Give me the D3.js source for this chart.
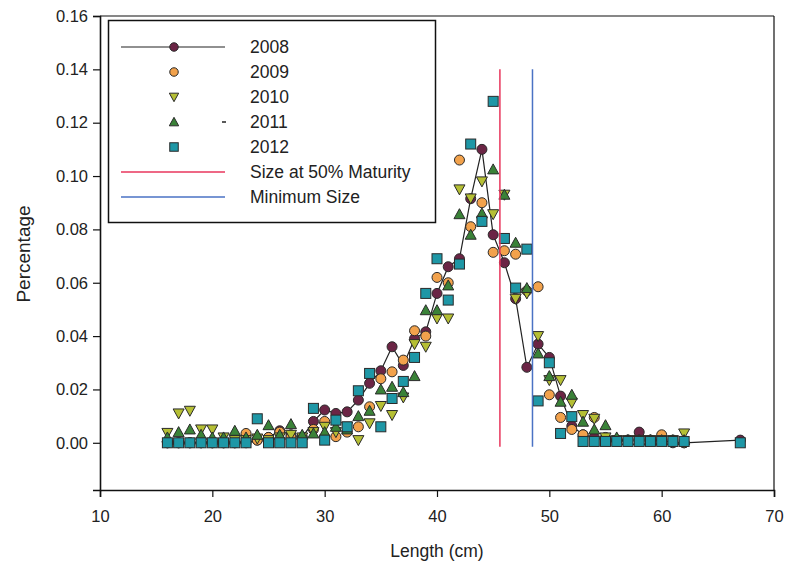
<!DOCTYPE html>
<html><head><meta charset="utf-8">
<script src="https://cdn.jsdelivr.net/npm/d3@7"></script>
<style>body{margin:0;background:#fff}svg{display:block;font-family:"Liberation Sans",Arial,sans-serif}</style>
</head><body><svg id="c" width="785" height="577"></svg>
<script>
const lengths = [16,17,18,19,20,21,22,23,24,25,26,27,28,29,30,31,32,33,34,35,36,37,38,39,40,41,42,43,44,45,46,47,48,49,50,51,52,53,54,55,56,57,58,59,60,61,62,67];
const y2008 = [0,0,0,0,0,0,0,0,0.001,0.002, 0.0045,0.003,0.002,0.008,0.0123,0.011,0.0116,0.016,0.0223,0.027, 0.036,0.029,0.039,0.0416,0.056,0.066,0.069,0.0915,0.110,0.078, 0.0675,0.054,0.0283,0.037,0.032,0.0175,0.0063,0.003,0.002,0.001, 0.001,0.001,0.004,0.001,0.001,0,0, 0.001];
const y2009 = [0,0,0,0,0,0,0,0.0035,0.001,0.002, 0.004,0.002,0.002,0.005,0.008,0.0023,0.004,0.006,0.0135,0.024, 0.0266,0.031,0.042,0.040,0.062,0.060,0.106,0.081,0.090,0.0714, 0.072,0.0707,0.057,0.0585,0.018,0.0095,0.005,0.003,0.0095,0.002, 0.001,0.001,0.001,0.001,0.003,0.001,0, null];
const y2010 = [0.0037,0.011,0.012,0.005,0.005,0.002,0.001,0.001,0.0016,0.001, 0.002,0.003,0.002,0.004,0.006,0.004,0.006,0.001,0.0073,0.0138, 0.0104,0.017,0.037,0.036,0.0466,0.0466,0.095,0.0916,0.098,0.0857, 0.093,0.054,0.056,0.040,0.0235,0.0235,0.015,0.0104,0.009,0.002, 0.001,0.001,0.001,0.001,0.001,0.001,0.0035, null];
const y2011 = [0.002,0.004,0.005,0.003,0.002,0.002,0.0045,0.002,0.003,0.0066, 0.003,0.007,0.003,0.0035,0.004,0.006,0.005,0.010,0.012,0.020, 0.021,0.019,0.025,0.0497,0.0497,0.059,0.0857,0.078,0.086,0.1025, 0.093,0.075,0.058,0.0335,0.025,0.0154,0.018,0.0079,0.005,0.0066, 0.002,0.001,0.001,0.001,0.001,0.001,0.001, null];
const y2012 = [0,0,0,0,0,0,0,0,0.009,0, 0,0,0,0.0129,0.001,0.0085,0.006,0.0195,0.026,0.006, 0.0166,0.023,0.032,0.056,0.069,0.0535,0.067,0.112,0.083,0.128, 0.0766,0.058,0.0726,0.0157,0.030,0.0035,0.0098,0.0005,0.0005,0.0005, 0.0005,0.0005,0.0005,0.0005,0.0005,0.0005,0.0005, 0];
const maturitySize = 45.6;
const minimumSize = 48.5;
const refTop = 0.14, refBottom = -0.0015;
const xTicks = [10,20,30,40,50,60,70];
const yTicks = [0,0.02,0.04,0.06,0.08,0.10,0.12,0.14,0.16];
const seriesNames = ["2008","2009","2010","2011","2012"];

const svg = d3.select("#c");
const x = d3.scaleLinear().domain([10,70]).range([100,774]);
const y = d3.scaleLinear().domain([-0.0177,0.16]).range([490,16]);
const txt = "#222";

// frame
svg.append("line").attr("x1",100).attr("x2",774).attr("y1",16).attr("y2",16).attr("stroke","#111").attr("stroke-width",1.2);
svg.append("line").attr("x1",774).attr("x2",774).attr("y1",16).attr("y2",490).attr("stroke","#111").attr("stroke-width",1.2);

const gx = svg.append("g").attr("transform","translate(0,490)")
  .call(d3.axisBottom(x).tickValues(xTicks).tickSize(7).tickPadding(13).tickFormat(d3.format("d")));
const gy = svg.append("g").attr("transform","translate(100,0)")
  .call(d3.axisLeft(y).tickValues(yTicks).tickSize(7).tickPadding(5).tickFormat(d3.format(".2f")));
[gx,gy].forEach(g=>{
  g.select(".domain").attr("stroke","#111").attr("stroke-width",1.6);
  g.selectAll(".tick line").attr("stroke","#111").attr("stroke-width",1.2);
  g.selectAll(".tick text").attr("fill",txt).style("font-size","16.5px").style("font-family","'Liberation Sans',Arial,sans-serif");
});
svg.append("text").attr("x",437).attr("y",557).attr("text-anchor","middle").attr("fill",txt).style("font-size","17.5px").text("Length (cm)");
svg.append("text").attr("transform","translate(30,254) rotate(-90)").attr("text-anchor","middle").attr("fill",txt).style("font-size","19px").text("Percentage");

const colors = {"2008":"#6b2545","2009":"#f2a24c","2010":"#b5bf34","2011":"#3a8238","2012":"#1e97a6"};
const stroke = "#2a2a2a";
function pts(vals){return lengths.map((l,i)=>({l, v:vals[i]})).filter(d=>d.v!==null);}

function drawMarker(g, type, cx, cy, fill, s){
  s = s || 1;
  if(type==="circle") g.append("circle").attr("cx",cx).attr("cy",cy).attr("r",5*s).attr("fill",fill).attr("stroke",stroke).attr("stroke-width",1);
  else if(type==="square") g.append("rect").attr("x",cx-5*s).attr("y",cy-5*s).attr("width",10*s).attr("height",10*s).attr("fill",fill).attr("stroke",stroke).attr("stroke-width",1);
  else if(type==="down") g.append("path").attr("d",`M${cx-5.5*s},${cy-4.5*s}L${cx+5.5*s},${cy-4.5*s}L${cx},${cy+5.5*s}Z`).attr("fill",fill).attr("stroke",stroke).attr("stroke-width",1);
  else if(type==="up") g.append("path").attr("d",`M${cx-5.5*s},${cy+4.5*s}L${cx+5.5*s},${cy+4.5*s}L${cx},${cy-5.5*s}Z`).attr("fill",fill).attr("stroke",stroke).attr("stroke-width",1);
}

const series = [
  {name:"2008", vals:y2008, type:"circle", line:true},
  {name:"2009", vals:y2009, type:"circle"},
  {name:"2010", vals:y2010, type:"down"},
  {name:"2011", vals:y2011, type:"up"},
  {name:"2012", vals:y2012, type:"square"}
];
const lineGen = d3.line().x(d=>x(d.l)).y(d=>y(d.v));
series.forEach(s=>{
  const g = svg.append("g");
  const p = pts(s.vals);
  if(s.line) g.append("path").attr("d",lineGen(p)).attr("fill","none").attr("stroke","#222").attr("stroke-width",1.2);
  p.forEach(d=>drawMarker(g, s.type, x(d.l), y(d.v), colors[s.name]));
});

// reference lines
svg.append("line").attr("x1",x(maturitySize)).attr("x2",x(maturitySize)).attr("y1",y(refTop)).attr("y2",y(refBottom)).attr("stroke","#e8365c").attr("stroke-width",1.5);
svg.append("line").attr("x1",x(minimumSize)).attr("x2",x(minimumSize)).attr("y1",y(refTop)).attr("y2",y(refBottom)).attr("stroke","#4a72c4").attr("stroke-width",1.5);

// legend
const lg = svg.append("g");
lg.append("rect").attr("x",108.5).attr("y",20.5).attr("width",327).attr("height",202).attr("fill","#fff").attr("stroke","#111").attr("stroke-width",1.5);
const rowY = [47,72,97,122,147,172,197];
const legendItems = [
  {label:"2008", type:"circle", color:colors["2008"], line:"#222"},
  {label:"2009", type:"circle", color:colors["2009"]},
  {label:"2010", type:"down", color:colors["2010"]},
  {label:"2011", type:"up", color:colors["2011"], dash:true},
  {label:"2012", type:"square", color:colors["2012"]},
  {label:"Size at 50% Maturity", refColor:"#e8365c"},
  {label:"Minimum Size", refColor:"#4a72c4"}
];
legendItems.forEach((it,i)=>{
  const yy = rowY[i];
  if(it.line) lg.append("line").attr("x1",121).attr("x2",225).attr("y1",yy).attr("y2",yy).attr("stroke",it.line).attr("stroke-width",1.2);
  if(it.refColor) lg.append("line").attr("x1",121).attr("x2",225).attr("y1",yy).attr("y2",yy).attr("stroke",it.refColor).attr("stroke-width",1.5);
  if(it.type) drawMarker(lg, it.type, 174, yy, it.color, 0.85);
  if(it.dash) lg.append("line").attr("x1",222).attr("x2",226).attr("y1",yy).attr("y2",yy).attr("stroke","#222").attr("stroke-width",1.5);
  lg.append("text").attr("x",250).attr("y",yy+6).attr("fill",txt).style("font-size","17.5px").text(it.label);
});
</script></body></html>
